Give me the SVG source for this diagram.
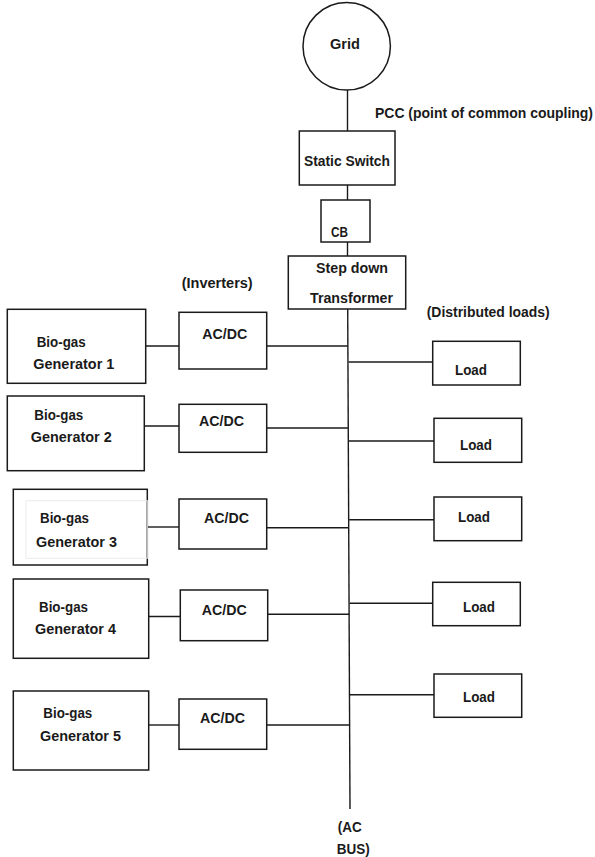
<svg xmlns="http://www.w3.org/2000/svg" width="595" height="857" viewBox="0 0 595 857">
<style>
.b{fill:#fff;stroke:#1a1a1a;stroke-width:1.5}
.w{fill:none;stroke:#1a1a1a;stroke-width:1.4}
text{font-family:"Liberation Sans",Arial,sans-serif;font-weight:bold;font-size:14px;fill:#1a1a1a}
</style>
<rect width="595" height="857" fill="#fff"/>
<g id="connectors">
<line class="w" x1="347.5" y1="90" x2="347.5" y2="131"/>
<line class="w" x1="347.5" y1="185" x2="347.5" y2="200"/>
<line class="w" x1="347.5" y1="242" x2="347.5" y2="256"/>
<line class="w" x1="347.7" y1="309" x2="350" y2="809"/>
<line class="w" x1="145.7" y1="346" x2="179" y2="346"/>
<line class="w" x1="266.7" y1="346" x2="348" y2="346"/>
<line class="w" x1="144.3" y1="426" x2="179" y2="426"/>
<line class="w" x1="266.7" y1="428" x2="348.5" y2="428"/>
<line class="w" x1="147.3" y1="527" x2="179" y2="527"/>
<line class="w" x1="266.7" y1="527.7" x2="349" y2="527.7"/>
<line class="w" x1="148.7" y1="616.5" x2="180.3" y2="616.5"/>
<line class="w" x1="267.7" y1="614.3" x2="349.3" y2="614.3"/>
<line class="w" x1="148.7" y1="725" x2="179" y2="725"/>
<line class="w" x1="266.7" y1="725" x2="349.7" y2="725"/>
<line class="w" x1="348.5" y1="362" x2="432.7" y2="362"/>
<line class="w" x1="348.8" y1="441" x2="434" y2="441"/>
<line class="w" x1="349.2" y1="519.7" x2="434" y2="519.7"/>
<line class="w" x1="349.5" y1="603.3" x2="432.7" y2="603.3"/>
<line class="w" x1="349.8" y1="694.7" x2="434" y2="694.7"/>
</g>
<g id="grid">
<circle class="b" cx="346.7" cy="46.3" r="43.7"/>
<text x="345" y="48.5" text-anchor="middle" textLength="30" lengthAdjust="spacingAndGlyphs">Grid</text>
</g>
<g id="pcc">
<text x="375" y="118" textLength="218" lengthAdjust="spacingAndGlyphs">PCC (point of common coupling)</text>
</g>
<g id="static-switch">
<rect class="b" x="299.3" y="131" width="95.7" height="54"/>
<text x="304" y="166" textLength="86" lengthAdjust="spacingAndGlyphs">Static Switch</text>
</g>
<g id="cb">
<rect class="b" x="321" y="200" width="49" height="42"/>
<text x="331" y="236.5" textLength="17" lengthAdjust="spacingAndGlyphs">CB</text>
</g>
<g id="transformer">
<rect class="b" x="288.3" y="256" width="117.4" height="53"/>
<text x="316" y="273" textLength="72" lengthAdjust="spacingAndGlyphs">Step down</text>
<text x="310" y="303" textLength="83" lengthAdjust="spacingAndGlyphs">Transformer</text>
</g>
<g id="label-inverters">
<text x="181.7" y="288" textLength="71" lengthAdjust="spacingAndGlyphs">(Inverters)</text>
</g>
<g id="label-loads">
<text x="426.7" y="316.5" textLength="123" lengthAdjust="spacingAndGlyphs">(Distributed loads)</text>
</g>
<g id="gen1">
<rect class="b" x="7.3" y="309.3" width="138.4" height="74"/>
<text x="36.7" y="347" textLength="49" lengthAdjust="spacingAndGlyphs">Bio-gas</text>
<text x="33.3" y="369" textLength="81" lengthAdjust="spacingAndGlyphs">Generator 1</text>
</g>
<g id="gen2">
<rect class="b" x="7.3" y="396" width="137" height="74.7"/>
<text x="34.3" y="420" textLength="49" lengthAdjust="spacingAndGlyphs">Bio-gas</text>
<text x="30.7" y="441.5" textLength="81" lengthAdjust="spacingAndGlyphs">Generator 2</text>
</g>
<g id="gen3">
<rect class="b" x="13.3" y="489.3" width="134" height="75.7"/>
<rect x="26" y="500.7" width="121.3" height="57.6" fill="none" stroke="#ececec" stroke-width="1"/>
<text x="40" y="522.5" textLength="49" lengthAdjust="spacingAndGlyphs">Bio-gas</text>
<text x="36" y="546.5" textLength="81" lengthAdjust="spacingAndGlyphs">Generator 3</text>
</g>
<g id="gen4">
<rect class="b" x="13.3" y="579" width="135.4" height="79.3"/>
<text x="39" y="611.5" textLength="49" lengthAdjust="spacingAndGlyphs">Bio-gas</text>
<text x="35" y="634" textLength="81" lengthAdjust="spacingAndGlyphs">Generator 4</text>
</g>
<g id="gen5">
<rect class="b" x="13.3" y="691" width="135.4" height="79"/>
<text x="43.3" y="718" textLength="49" lengthAdjust="spacingAndGlyphs">Bio-gas</text>
<text x="40" y="740.5" textLength="81" lengthAdjust="spacingAndGlyphs">Generator 5</text>
</g>
<g id="inv1">
<rect class="b" x="179" y="312.3" width="87.7" height="56.7"/>
<text x="202.3" y="338.5" textLength="45" lengthAdjust="spacingAndGlyphs">AC/DC</text>
</g>
<g id="inv2">
<rect class="b" x="179" y="404.3" width="87.7" height="48"/>
<text x="199" y="426" textLength="45" lengthAdjust="spacingAndGlyphs">AC/DC</text>
</g>
<g id="inv3">
<rect class="b" x="179" y="499" width="87.7" height="50"/>
<text x="204" y="523" textLength="45" lengthAdjust="spacingAndGlyphs">AC/DC</text>
</g>
<g id="inv4">
<rect class="b" x="180.3" y="590" width="87.4" height="50.7"/>
<text x="201.7" y="614.5" textLength="45" lengthAdjust="spacingAndGlyphs">AC/DC</text>
</g>
<g id="inv5">
<rect class="b" x="179" y="699" width="87.7" height="50.3"/>
<text x="200" y="722.5" textLength="45" lengthAdjust="spacingAndGlyphs">AC/DC</text>
</g>
<g id="load1">
<rect class="b" x="432.7" y="341.3" width="87.6" height="43.7"/>
<text x="455" y="374.5" textLength="32" lengthAdjust="spacingAndGlyphs">Load</text>
</g>
<g id="load2">
<rect class="b" x="434" y="418.3" width="87.7" height="44"/>
<text x="460" y="450" textLength="32" lengthAdjust="spacingAndGlyphs">Load</text>
</g>
<g id="load3">
<rect class="b" x="434" y="497" width="87.7" height="43.7"/>
<text x="458" y="522" textLength="32" lengthAdjust="spacingAndGlyphs">Load</text>
</g>
<g id="load4">
<rect class="b" x="432.7" y="582.3" width="87.6" height="43.4"/>
<text x="463" y="612" textLength="32" lengthAdjust="spacingAndGlyphs">Load</text>
</g>
<g id="load5">
<rect class="b" x="434" y="674" width="87.7" height="43.3"/>
<text x="463" y="702" textLength="32" lengthAdjust="spacingAndGlyphs">Load</text>
</g>
<g id="label-acbus">
<text x="337.7" y="832" textLength="24" lengthAdjust="spacingAndGlyphs">(AC</text>
<text x="336.7" y="854" textLength="33" lengthAdjust="spacingAndGlyphs">BUS)</text>
</g>
</svg>
